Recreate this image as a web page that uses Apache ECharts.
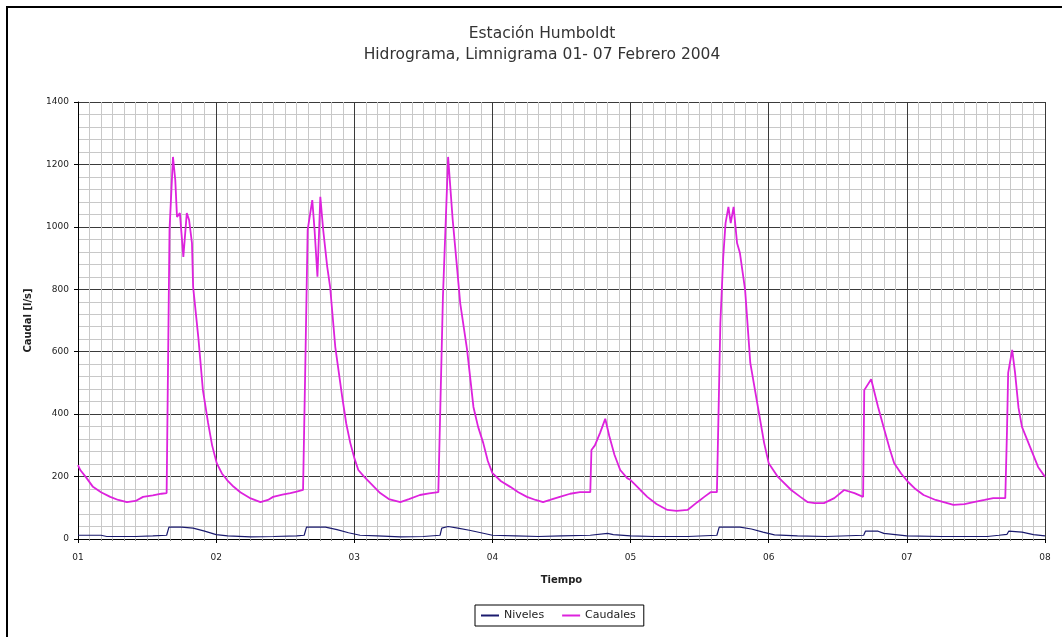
<!DOCTYPE html>
<html>
<head>
<meta charset="utf-8">
<script src="https://cdn.jsdelivr.net/npm/echarts@6/dist/echarts.min.js"></script>
<style>
html,body{margin:0;padding:0;background:#fff;}
#chart{width:1062px;height:637px;}
</style>
</head>
<body>
<div id="chart"></div>
<script>
// ---- data ----
const titleText = 'Estación Humboldt';
const subtitleText = 'Hidrograma, Limnigrama 01- 07 Febrero 2004';
const xTickLabels = ['01','02','03','04','05','06','07','08'];
const yTickStep = 200;

// hours since 01 Feb 00:00
const caudalHours = [0,0.4,1.5,2.6,4,5.6,7,8.5,10,11.3,13,14.5,15.4,15.6,15.9,16.5,16.9,17.2,17.7,18.3,18.9,19.3,19.8,20,20.9,21.7,22.6,23.3,24.1,25,25.9,27,28.2,30,31.7,33,33.9,35.5,36.9,38,39.1,39.3,39.5,39.9,40.7,41.1,41.6,42.1,42.6,43.3,43.8,44.7,45.9,46.6,47.3,48,48.7,49.7,50.8,52.5,54,56,57.5,59.4,61,62.6,62.9,63.4,64.3,65.1,65.8,66.4,67.6,68.7,69.5,70.4,71.2,72,73.5,75.1,76.5,78,79.5,80.8,82,83.7,85.5,87.2,89,89.2,89.8,90.7,91.6,92.3,93.2,94.2,95.4,96,97.7,98.9,100.5,102.4,104,105.9,107.6,108.8,109.9,111,111.6,112.1,112.5,113,113.4,113.9,114.5,115,115.9,116.8,118,119.2,120,121.6,123.9,125.5,126.8,128,129.6,131.4,133.1,134.9,136.4,136.6,137.8,139,140.1,141,141.8,143,144.1,145.5,146.9,149,152.1,154,155.6,157.5,159,161.1,161.4,161.6,162.3,162.8,163.4,164,165.4,166.8,168];
const caudalValues = [237,221,195,167,150,135,125,118,122,135,140,145,147,150,990,1224,1150,1032,1044,904,1044,1022,948,808,647,477,372,300,243,210,189,168,150,130,118,125,135,142,147,152,157,160,564,990,1086,990,840,1096,990,872,808,615,455,370,308,260,221,200,179,147,128,118,128,141,146,150,155,775,1224,1022,880,756,606,423,360,308,250,211,185,167,150,135,125,118,125,135,145,150,150,285,300,340,385,330,270,221,195,189,157,135,112,93,90,93,118,135,150,150,692,904,1012,1064,1012,1064,948,916,798,564,436,308,243,199,157,135,118,115,115,131,157,147,135,477,512,423,349,290,243,210,185,160,141,125,109,112,118,125,131,131,349,532,606,532,420,359,295,231,199];

const nivelHours = [0,4,5,10,13,15.4,15.8,18,20,22,24,26,30,34,38,39.3,39.7,43,45,47,49,52,56,60,62.9,63.2,64.3,66,68,70,72,76,80,84,89,89.3,92,93,96,100,106,111,111.4,115,117,119,121,125,130,136.5,136.8,139,140,142,144,150,158,160,161.4,161.7,164,166,168];
const nivelValues = [12,12,8,8,10,12,38,38,35,25,14,10,7,8,10,12,38,38,30,20,12,10,7,8,12,35,40,35,28,20,12,10,8,10,12,18,18,14,10,8,8,12,38,38,32,22,13,10,8,12,25,25,18,14,10,8,8,12,15,25,22,14,10];

const caudalData = caudalHours.map((h,i)=>[h, caudalValues[i]]);
const nivelData = nivelHours.map((h,i)=>[h, nivelValues[i]]);

const chart = echarts.init(document.getElementById('chart'), null, {renderer:'canvas'});
chart.setOption({
  animation:false,
  backgroundColor:'#fff',
  textStyle:{fontFamily:'DejaVu Sans'},
  graphic:[{
    type:'rect', silent:true, z:-10,
    shape:{x:7,y:7,width:1200,height:800},
    style:{fill:'none',stroke:'#000',lineWidth:2}
  }],
  title:{
    text:titleText,
    subtext:subtitleText,
    left:537, textAlign:'center', top:21,
    itemGap:5,
    textStyle:{fontSize:15.5,fontWeight:'normal',color:'#333',fontFamily:'DejaVu Sans'},
    subtextStyle:{fontSize:15.5,color:'#333',fontFamily:'DejaVu Sans'}
  },
  legend:{
    data:['Niveles','Caudales'],
    left:475, top:605,
    padding:[5,8,5,6],
    borderColor:'#000', borderWidth:1,
    itemWidth:18, itemHeight:2, itemGap:18,
    icon:'rect',
    textStyle:{fontSize:11,color:'#222',fontFamily:'DejaVu Sans'}
  },
  grid:{left:78,right:17,top:102,bottom:98,containLabel:false},
  xAxis:{
    type:'value', min:0, max:168, interval:24,
    name:'Tiempo', nameLocation:'middle', nameGap:36,
    nameTextStyle:{fontSize:10,fontWeight:'bold',color:'#222'},
    axisLine:{show:true,lineStyle:{color:'#000',width:1}},
    axisTick:{show:true,length:4,lineStyle:{color:'#000'}},
    axisLabel:{fontSize:9,color:'#222',margin:14,formatter:function(v){return xTickLabels[Math.round(v/24)];}},
    splitLine:{show:true,lineStyle:{color:'#3a3a3a',width:1}},
    minorTick:{show:true,splitNumber:12,length:2,lineStyle:{color:'#888'}},
    minorSplitLine:{show:true,lineStyle:{color:'#c8c8c8',width:1}}
  },
  yAxis:{
    type:'value', min:0, max:1400, interval:yTickStep,
    name:'Caudal [l/s]', nameLocation:'middle', nameGap:45,
    nameTextStyle:{fontSize:10,fontWeight:'bold',color:'#222'},
    axisLine:{show:true,lineStyle:{color:'#000',width:1}},
    axisTick:{show:true,length:4,lineStyle:{color:'#000'}},
    axisLabel:{fontSize:9,color:'#222',margin:9,formatter:function(v){return String(v);}},
    splitLine:{show:true,lineStyle:{color:'#3a3a3a',width:1}},
    minorTick:{show:false,splitNumber:5},
    minorSplitLine:{show:true,lineStyle:{color:'#c8c8c8',width:1}}
  },
  series:[
    {name:'Niveles',type:'line',data:nivelData,showSymbol:false,symbol:'none',
     lineStyle:{color:'#1a1a6e',width:1.2},itemStyle:{color:'#1a1a6e'},z:3},
    {name:'Caudales',type:'line',data:caudalData,showSymbol:false,symbol:'none',
     lineStyle:{color:'#dd22dd',width:1.8},itemStyle:{color:'#dd22dd'},z:4}
  ]
});
</script>
</body>
</html>
